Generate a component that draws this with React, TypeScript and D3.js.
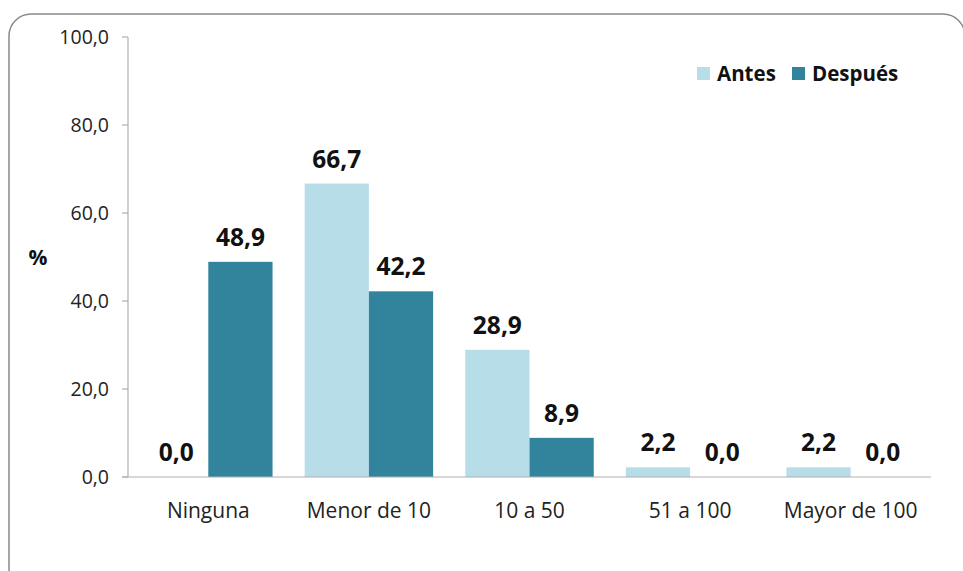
import React from "react";
import * as d3 from "d3";

const categories = ["Ninguna", "Menor de 10", "10 a 50", "51 a 100", "Mayor de 100"];
const antes = [0.0, 66.7, 28.9, 2.2, 2.2];
const despues = [48.9, 42.2, 8.9, 0.0, 0.0];
const seriesNames = ["Antes", "Después"];
const yTicks = [0, 20, 40, 60, 80, 100];
const colors = ["#B7DDE8", "#31849B"];

const W = 963, H = 571;
const fontFamily = "'Open Sans', 'Noto Sans', sans-serif";

export default function App() {
  const x0 = d3.scaleBand().domain(categories).range([128, 931]).paddingInner(0.2).paddingOuter(0.1);
  const x1 = d3.scaleBand().domain(seriesNames).range([0, x0.bandwidth()]);
  const y = d3.scaleLinear().domain([0, 100]).range([477, 37]);
  const fmt = (v: number) => v.toFixed(1).replace(".", ",");
  const series = [antes, despues];

  return (
    <svg width={W} height={H} style={{ position: "absolute", left: 0, top: 0, background: "#fff" }}>
      <rect x={9} y={14} width={956} height={600} rx={22} ry={22} fill="#fff" stroke="#8a8a8a" strokeWidth={1.5} />
      {/* y axis */}
      <line x1={128} x2={128} y1={y(100)} y2={y(0)} stroke="#b0b0b0" strokeWidth={1.2} />
      {yTicks.map((t) => (
        <g key={t}>
          <line x1={122} x2={128} y1={y(t)} y2={y(t)} stroke="#b0b0b0" strokeWidth={1.2} />
          <text x={109} y={y(t)} dy="0.35em" textAnchor="end" fontSize={19.5} fontFamily={fontFamily} fill="#222">
            {fmt(t)}
          </text>
        </g>
      ))}
      <text x={38} y={258} dy="0.35em" textAnchor="middle" fontSize={21} fontWeight="bold" fontFamily={fontFamily} fill="#111">%</text>
      {/* bars */}
      {categories.map((c, ci) => (
        <g key={c}>
          {series.map((s, si) => {
            const bx = (x0(c) as number) + (x1(seriesNames[si]) as number);
            const bw = x1.bandwidth();
            return (
              <g key={si}>
                <rect x={bx} y={y(s[ci])} width={bw} height={y(0) - y(s[ci])} fill={colors[si]} />
                <text x={bx + bw / 2} y={y(s[ci]) - 16} textAnchor="middle" fontSize={24.5} fontWeight="bold" fontFamily={fontFamily} fill="#111">
                  {fmt(s[ci])}
                </text>
              </g>
            );
          })}
          <text x={(x0(c) as number) + x0.bandwidth() / 2} y={518} textAnchor="middle" fontSize={21} fontFamily={fontFamily} fill="#222">
            {c}
          </text>
        </g>
      ))}
      <line x1={122} x2={931} y1={y(0)} y2={y(0)} stroke="#b0b0b0" strokeWidth={1.2} />
      {/* legend */}
      {seriesNames.map((n, i) => {
        const lx = i === 0 ? 697 : 792;
        return (
          <g key={n}>
            <rect x={lx} y={67} width={13} height={13} fill={colors[i]} />
            <text x={lx + 20} y={74} dy="0.35em" fontSize={20.5} fontWeight="bold" fontFamily={fontFamily} fill="#111">{n}</text>
          </g>
        );
      })}
    </svg>
  );
}
